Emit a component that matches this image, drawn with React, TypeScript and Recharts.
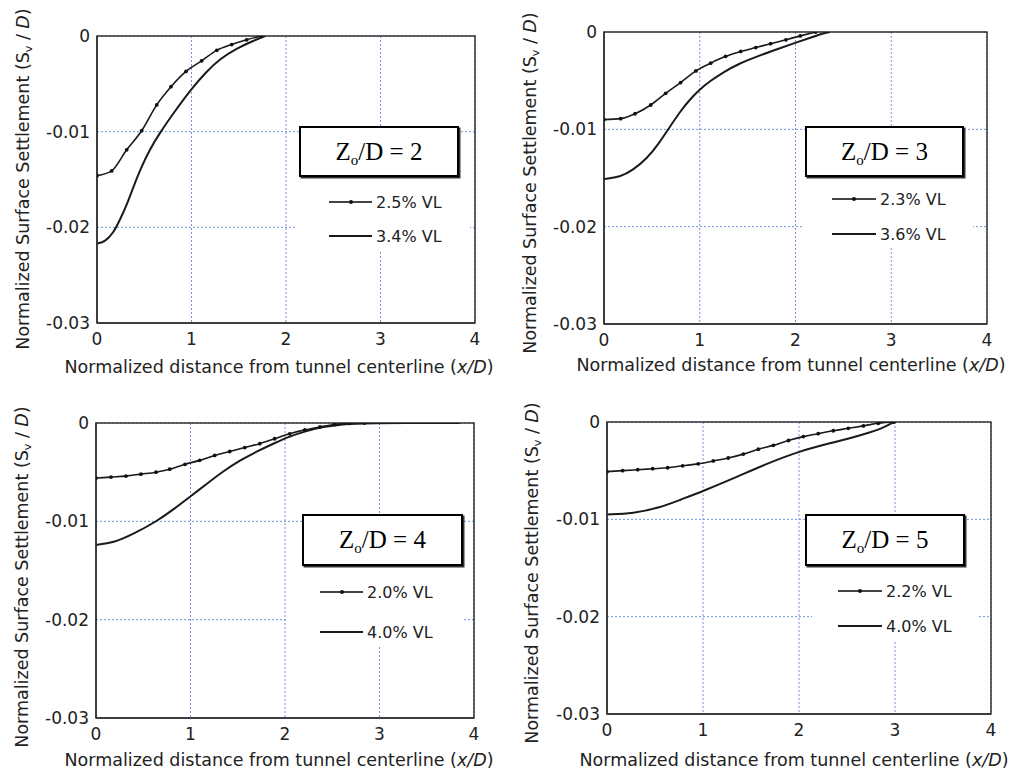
import React from "react";
import { LineChart, Line, XAxis, YAxis, CartesianGrid, ReferenceArea } from "recharts";

// ---------- data ----------
const xTicks = [0, 1, 2, 3, 4];
const yTicks = [-0.03, -0.02, -0.01, 0];

// Zo/D = 2
const p1LabelA = "2.5% VL";
const p1LabelB = "3.4% VL";
const p1xA = [0, 0.155, 0.314, 0.473, 0.632, 0.783, 0.942, 1.107, 1.267, 1.425, 1.584, 1.735];
const p1yA = [-0.0146, -0.0141, -0.0119, -0.0099, -0.0072, -0.0053, -0.0037, -0.0026, -0.0015, -0.0009, -0.0004, 0];
const p1xB = [0, 0.085, 0.173, 0.243, 0.314, 0.384, 0.455, 0.561, 0.667, 0.807, 1.0, 1.16, 1.3, 1.478, 1.654, 1.78];
const p1yB = [-0.0217, -0.0215, -0.0206, -0.0192, -0.0177, -0.0158, -0.014, -0.0118, -0.0101, -0.0081, -0.0055, -0.0037, -0.0024, -0.0013, -0.0005, 0];

// Zo/D = 3
const p2LabelA = "2.3% VL";
const p2LabelB = "3.6% VL";
const p2xA = [0, 0.174, 0.324, 0.488, 0.644, 0.8, 0.96, 1.114, 1.27, 1.428, 1.585, 1.74, 1.9, 2.05, 2.21];
const p2yA = [-0.009, -0.0089, -0.0084, -0.0075, -0.0063, -0.0052, -0.004, -0.0032, -0.0025, -0.002, -0.0016, -0.0012, -0.0008, -0.0004, 0];
const p2xB = [0, 0.17, 0.3, 0.45, 0.57, 0.67, 0.8, 0.9, 1.0, 1.1, 1.25, 1.42, 1.6, 1.8, 2.0, 2.18, 2.3, 2.36];
const p2yB = [-0.0151, -0.0149, -0.0142, -0.013, -0.0115, -0.01, -0.0081, -0.0069, -0.0059, -0.0051, -0.0041, -0.0032, -0.0025, -0.0018, -0.0011, -0.0005, -0.0001, 0];

// Zo/D = 4
const p3LabelA = "2.0% VL";
const p3LabelB = "4.0% VL";
const p3xA = [0, 0.159, 0.317, 0.476, 0.635, 0.78, 0.942, 1.097, 1.256, 1.415, 1.574, 1.733, 1.89, 2.05, 2.21, 2.37, 2.525, 2.68, 2.84];
const p3yA = [-0.0056, -0.0055, -0.0054, -0.0052, -0.005, -0.0047, -0.0042, -0.0038, -0.0033, -0.0029, -0.0025, -0.0021, -0.0016, -0.0011, -0.0007, -0.0004, -0.00015, -0.00004, 0];
const p3xB = [0, 0.183, 0.395, 0.642, 0.818, 0.995, 1.17, 1.347, 1.524, 1.7, 1.876, 2.05, 2.23, 2.4, 2.61, 2.83, 3.85];
const p3yB = [-0.0124, -0.0122, -0.0113, -0.01, -0.0088, -0.0075, -0.0062, -0.0049, -0.0038, -0.0029, -0.0021, -0.00135, -0.0008, -0.0004, -0.00012, 0, 0];

// Zo/D = 5
const p4LabelA = "2.2% VL";
const p4LabelB = "4.0% VL";
const p4xA = [0, 0.163, 0.32, 0.476, 0.632, 0.788, 0.95, 1.107, 1.263, 1.42, 1.576, 1.733, 1.89, 2.045, 2.2, 2.357, 2.513, 2.67, 2.826, 2.99];
const p4yA = [-0.0051, -0.005, -0.0049, -0.0048, -0.0047, -0.0045, -0.0043, -0.004, -0.0037, -0.0033, -0.0028, -0.0024, -0.0019, -0.0015, -0.0012, -0.0009, -0.00065, -0.0004, -0.00013, 0];
const p4xB = [0, 0.274, 0.552, 0.76, 1.0, 1.316, 1.66, 2.0, 2.36, 2.7, 2.88, 2.99];
const p4yB = [-0.0095, -0.0094, -0.0088, -0.008, -0.0071, -0.0058, -0.0043, -0.003, -0.0021, -0.0012, -0.0006, 0];

const zoD = ["2", "3", "4", "5"];

// ---------- helpers ----------
const zip = (xs: number[], ys: number[]) => xs.map((x, i) => ({ x, y: ys[i] }));

const SANS = '"DejaVu Sans", Verdana, sans-serif';
const SERIF = '"Liberation Serif", "Times New Roman", serif';
const INK = "#1a1a1a";
const GRID = "#6f93d6";

type PanelProps = {
  left: number; top: number; width: number; height: number;
  margin: { top: number; right: number; bottom: number; left: number };
  a: { x: number; y: number }[];
  b: { x: number; y: number }[];
};

function Panel({ left, top, width, height, margin, a, b }: PanelProps) {
  const tick = { fontFamily: SANS, fontSize: 17, fill: "#222" };
  return (
    <div style={{ position: "absolute", left, top, width, height }}>
      <LineChart width={width} height={height} margin={margin}>
        <CartesianGrid stroke={GRID} strokeDasharray="2 2" strokeWidth={1} />
        <XAxis
          type="number" dataKey="x" domain={[0, 4]} ticks={xTicks} allowDataOverflow
          height={30} tickLine={false} tickSize={0} tickMargin={10}
          axisLine={{ stroke: "#333", strokeWidth: 1.5 }} tick={tick}
        />
        <YAxis
          type="number" dataKey="y" domain={[-0.03, 0]} ticks={yTicks} allowDataOverflow
          width={60} tickLine={false} tickSize={0} tickMargin={7}
          axisLine={{ stroke: "#333", strokeWidth: 1.5 }} tick={tick}
          tickFormatter={(v: number) => (v === 0 ? "0" : String(v))}
        />
        <ReferenceArea x1={0} x2={4} y1={-0.03} y2={0} fill="none" fillOpacity={0} stroke="#333" strokeWidth={1.5} />
        <Line
          data={b} dataKey="y" type="basis" stroke={INK} strokeWidth={2}
          dot={false} isAnimationActive={false}
        />
        <Line
          data={a} dataKey="y" type="monotone" stroke={INK} strokeWidth={1.6}
          dot={{ r: 1.9, fill: "#111", stroke: "#111", strokeWidth: 0 }} isAnimationActive={false}
        />
      </LineChart>
    </div>
  );
}

function YTitle({ cx, cy }: { cx: number; cy: number }) {
  return (
    <div
      style={{
        position: "absolute", left: cx - 250, top: cy - 12, width: 500, height: 24,
        lineHeight: "24px", textAlign: "center", transform: "rotate(-90deg)",
        fontFamily: SANS, fontSize: 17.5, color: "#222", whiteSpace: "nowrap",
      }}
    >
      Normalized Surface Settlement (S
      <sub style={{ fontSize: 11, verticalAlign: "-0.3em", lineHeight: 0 }}>v</sub>
      {" / "}
      <i>D</i>)
    </div>
  );
}

function XTitle({ cx, cy }: { cx: number; cy: number }) {
  return (
    <div
      style={{
        position: "absolute", left: cx - 260, top: cy - 12, width: 520, height: 24,
        lineHeight: "24px", textAlign: "center",
        fontFamily: SANS, fontSize: 17.5, color: "#222", whiteSpace: "nowrap",
      }}
    >
      Normalized distance from tunnel centerline (<i>x/D</i>)
    </div>
  );
}

type LegendProps = {
  box: { x: number; y: number; w: number; h: number };
  z: string;
  area: { x: number; w: number };
  lineX: number; lineW: number;
  yA: number; yB: number;
  labelA: string; labelB: string;
};

function LegendBlock({ box, z, area, lineX, lineW, yA, yB, labelA, labelB }: LegendProps) {
  const entry = (y: number, label: string, marker: boolean, sw: number) => (
    <div style={{ position: "absolute", left: lineX, top: y - 12, height: 24, display: "flex", alignItems: "center" }}>
      <div style={{ position: "relative", width: lineW, height: sw, background: marker ? "#444" : INK }}>
        {marker && (
          <div style={{ position: "absolute", left: lineW / 2 - 2, top: sw / 2 - 2, width: 4, height: 4, borderRadius: 2, background: "#111" }} />
        )}
      </div>
      <span style={{ marginLeft: 4, fontFamily: SANS, fontSize: 16, color: "#222", whiteSpace: "nowrap" }}>{label}</span>
    </div>
  );
  return (
    <>
      <div style={{ position: "absolute", left: area.x, top: box.y + box.h, width: area.w, height: yB - box.y - box.h + 14, background: "#fff" }} />
      <div
        style={{
          position: "absolute", left: box.x, top: box.y, width: box.w, height: box.h, boxSizing: "border-box",
          border: "2.5px solid #000", boxShadow: "1.5px 1.5px 0 #333", background: "#fff",
          display: "flex", alignItems: "center", justifyContent: "center",
          fontFamily: SERIF, fontSize: 25, color: "#000", whiteSpace: "nowrap",
        }}
      >
        <span>
          Z<sub style={{ fontSize: 15, verticalAlign: "-0.3em", lineHeight: 0 }}>o</sub>/D = {z}
        </span>
      </div>
      {entry(yA, labelA, true, 1.5)}
      {entry(yB, labelB, false, 2)}
    </>
  );
}

export default function App() {
  return (
    <div style={{ position: "absolute", left: 0, top: 0, width: 1013, height: 776, background: "#fff", overflow: "hidden" }}>
      <Panel left={0} top={0} width={500} height={390}
        margin={{ top: 36, right: 25, bottom: 37, left: 37 }}
        a={zip(p1xA, p1yA)} b={zip(p1xB, p1yB)} />
      <Panel left={500} top={0} width={513} height={390}
        margin={{ top: 32, right: 26, bottom: 36, left: 44 }}
        a={zip(p2xA, p2yA)} b={zip(p2xB, p2yB)} />
      <Panel left={0} top={390} width={500} height={386}
        margin={{ top: 33, right: 26, bottom: 28, left: 36 }}
        a={zip(p3xA, p3yA)} b={zip(p3xB, p3yB)} />
      <Panel left={500} top={390} width={513} height={386}
        margin={{ top: 32, right: 22, bottom: 32, left: 47 }}
        a={zip(p4xA, p4yA)} b={zip(p4xB, p4yB)} />

      <LegendBlock box={{ x: 299, y: 126, w: 160, h: 51 }} z={zoD[0]} area={{ x: 297, w: 173 }}
        lineX={329} lineW={43} yA={202} yB={236} labelA={p1LabelA} labelB={p1LabelB} />
      <LegendBlock box={{ x: 805, y: 126, w: 159, h: 51 }} z={zoD[1]} area={{ x: 802, w: 171 }}
        lineX={832} lineW={44} yA={199} yB={234} labelA={p2LabelA} labelB={p2LabelB} />
      <LegendBlock box={{ x: 302, y: 514, w: 161, h: 52 }} z={zoD[2]} area={{ x: 288, w: 174 }}
        lineX={320} lineW={43} yA={592} yB={632} labelA={p3LabelA} labelB={p3LabelB} />
      <LegendBlock box={{ x: 805, y: 514, w: 160, h: 52 }} z={zoD[3]} area={{ x: 812, w: 166 }}
        lineX={838} lineW={44} yA={591} yB={626} labelA={p4LabelA} labelB={p4LabelB} />

      <YTitle cx={23} cy={179} />
      <YTitle cx={530} cy={183} />
      <YTitle cx={22} cy={577} />
      <YTitle cx={532} cy={573} />
      <XTitle cx={279} cy={367} />
      <XTitle cx={791} cy={365} />
      <XTitle cx={279} cy={760} />
      <XTitle cx={794} cy={760} />
    </div>
  );
}
